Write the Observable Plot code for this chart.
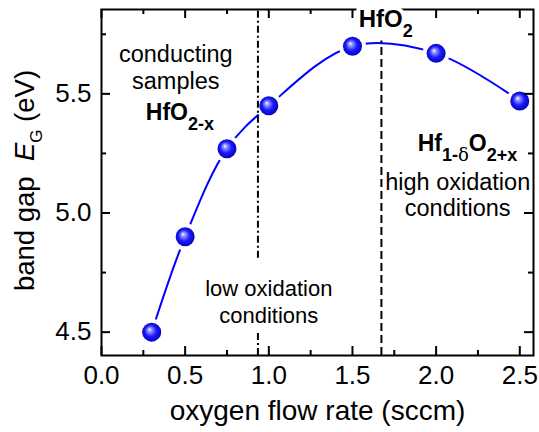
<!DOCTYPE html>
<html><head><meta charset="utf-8">
<script src="https://cdn.jsdelivr.net/npm/d3@7"></script>
<script src="https://cdn.jsdelivr.net/npm/@observablehq/plot@0.6"></script>
<style>
body{margin:0;background:#fff}
svg{font-family:"Liberation Sans",Arial,sans-serif}
</style>
</head><body><div id="chart"></div>
<script>
// ---- data ----
const flowRate = [0.3, 0.5, 0.75, 1.0, 1.5, 2.0, 2.5];
const bandGap  = [4.50, 4.90, 5.27, 5.45, 5.70, 5.67, 5.47];
const xMajorTicks = [0, 0.5, 1.0, 1.5, 2.0, 2.5];
const xMinorTicks = [0.25, 0.75, 1.25, 1.75, 2.25];
const yMajorTicks = [4.5, 5.0, 5.5];
const yMinorTicks = [4.75, 5.25, 5.75];
const xDomain = [0, 2.582];
const yDomain = [4.402, 5.854];
const lowBoundaryX = 0.935;           // dash-dot line
const lowBoundarySegments = [[4.81, 5.854], [4.402, 4.50]];
const highBoundaryX = 1.673;          // dashed line
const highBoundaryTop = 5.722;
const xLabel = "oxygen flow rate (sccm)";
const yLabel = "band gap  EG (eV)";
const notesLarge = [
  {x: 0.444, y: 5.613, text: "conducting\nsamples"},
  {x: 2.129, y: 5.076, text: "high oxidation\nconditions"}
];
const notesSmall = [
  {x: 1.0, y: 4.631, text: "low oxidation\nconditions"}
];
const notesBold = [
  {x: 0.265, y: 5.420, text: "HfO2-x"},
  {x: 1.89,  y: 5.290, text: "Hf1-δO2+x"}
];
const topNote = [{x: 1.537, y: 5.812, text: "HfO2"}];

// ---- layout ----
const W = 539, H = 432, mL = 101, mR = 6, mT = 9, mB = 77;
const innerW = W - mL - mR, innerH = H - mT - mB;
const majorLen = 9, minorLen = 5;
const pts = flowRate.map((x, i) => ({x, y: bandGap[i]}));
const blue = "#0000ff";

const svg = Plot.plot({
  width: W, height: H,
  marginLeft: mL, marginRight: mR, marginTop: mT, marginBottom: mB,
  x: {domain: xDomain},
  y: {domain: yDomain},
  marks: [
    Plot.line(pts, {x: "x", y: "y", curve: "catmull-rom", stroke: blue, strokeWidth: 2}),
    Plot.dot(pts, {x: "x", y: "y", r: 13.5, fill: "white"}),
    Plot.ruleX(lowBoundarySegments, {x: () => lowBoundaryX, y1: d => d[0], y2: d => d[1], stroke: "black", strokeWidth: 2, strokeDasharray: "7,3,2,3"}),
    Plot.ruleX([highBoundaryX], {y1: yDomain[0], y2: highBoundaryTop, stroke: "black", strokeWidth: 2, strokeDasharray: "8,4"}),
    Plot.dot(pts, {x: "x", y: "y", r: 9.5, fill: "url(#sphere)"}),
    // inward ticks
    Plot.tickX(xMajorTicks, {x: d => d, insetTop: innerH - majorLen, strokeWidth: 2}),
    Plot.tickX(xMinorTicks, {x: d => d, insetTop: innerH - minorLen, strokeWidth: 2}),
    Plot.tickX(xMajorTicks, {x: d => d, insetBottom: innerH - majorLen, strokeWidth: 2}),
    Plot.tickX(xMinorTicks, {x: d => d, insetBottom: innerH - minorLen, strokeWidth: 2}),
    Plot.tickY(yMajorTicks, {y: d => d, insetRight: innerW - majorLen, strokeWidth: 2}),
    Plot.tickY(yMinorTicks, {y: d => d, insetRight: innerW - minorLen, strokeWidth: 2}),
    Plot.tickY(yMajorTicks, {y: d => d, insetLeft: innerW - majorLen, strokeWidth: 2}),
    Plot.tickY(yMinorTicks, {y: d => d, insetLeft: innerW - minorLen, strokeWidth: 2}),
    Plot.frame({stroke: "black", strokeWidth: 2}),
    Plot.axisX(xMajorTicks, {tickSize: 0, tickPadding: 10, tickFormat: d3.format(".1f"), fontSize: 26, label: null}),
    Plot.axisY(yMajorTicks, {tickSize: 0, tickPadding: 10, tickFormat: d3.format(".1f"), fontSize: 26, label: null}),
    Plot.text([xLabel], {text: d => d, frameAnchor: "bottom", textAnchor: "middle", dy: 56, lineAnchor: "middle", fontSize: 28}),
    Plot.text([yLabel], {text: d => d, frameAnchor: "left", textAnchor: "middle", rotate: -90, dx: -76, dy: -2, lineAnchor: "middle", fontSize: 27.5}),
    Plot.text(notesLarge, {x: "x", y: "y", text: "text", fontSize: 23.5, lineHeight: 1.12, lineAnchor: "middle"}),
    Plot.text(notesSmall, {x: "x", y: "y", text: "text", fontSize: 22, lineHeight: 1.2, lineAnchor: "middle"}),
    Plot.text(notesBold, {x: "x", y: "y", text: "text", fontSize: 23, fontWeight: "bold", textAnchor: "start", lineAnchor: "middle"}),
    Plot.text(topNote, {x: "x", y: "y", text: "text", fontSize: 24, fontWeight: "bold", textAnchor: "start", lineAnchor: "middle", stroke: "white", strokeWidth: 8, fill: "black"})
  ]
});

// gradient for shaded spheres
const ns = "http://www.w3.org/2000/svg";
const defs = document.createElementNS(ns, "defs");
defs.innerHTML = `<radialGradient id="sphere" cx="50%" cy="50%" r="55%" fx="38%" fy="35%">
  <stop offset="0%" stop-color="#ffffff"/>
  <stop offset="18%" stop-color="#9a9aff"/>
  <stop offset="55%" stop-color="#1a1aff"/>
  <stop offset="100%" stop-color="#0000b0"/>
</radialGradient>`;
svg.insertBefore(defs, svg.firstChild);

// rich text (subscripts / italics)
const rich = {
  "HfO2-x": {sub: 18, shift: 10, parts: [{t: "HfO"}, {t: "2-x", sub: 1}]},
  "HfO2": {sub: 18, shift: 10, parts: [{t: "HfO"}, {t: "2", sub: 1}]},
  "Hf1-δO2+x": {sub: 18, shift: 10, parts: [{t: "Hf"}, {t: "1-", sub: 1}, {t: "δ", sub: 1, serif: 1}, {t: "O"}, {t: "2+x", sub: 1}]},
  [yLabel]: {sub: 17, shift: 8, parts: [{t: "band gap  "}, {t: "E", italic: 1}, {t: "G", sub: 1}, {t: " (eV)"}]}
};
d3.select(svg).selectAll("text").each(function() {
  const r = rich[this.textContent];
  if (!r) return;
  this.textContent = "";
  this.style.whiteSpace = "pre";
  let shift = 0;
  for (const p of r.parts) {
    const ts = document.createElementNS(ns, "tspan");
    ts.textContent = p.t;
    const target = p.sub ? r.shift : 0;
    if (target !== shift) { ts.setAttribute("dy", target - shift); shift = target; }
    if (p.sub) ts.setAttribute("font-size", r.sub);
    if (p.italic) ts.setAttribute("font-style", "italic");
    if (p.serif) { ts.setAttribute("font-family", "DejaVu Serif, serif"); ts.setAttribute("font-weight", "normal"); }
    this.appendChild(ts);
  }
});
document.getElementById("chart").appendChild(svg);
</script>
</body></html>
